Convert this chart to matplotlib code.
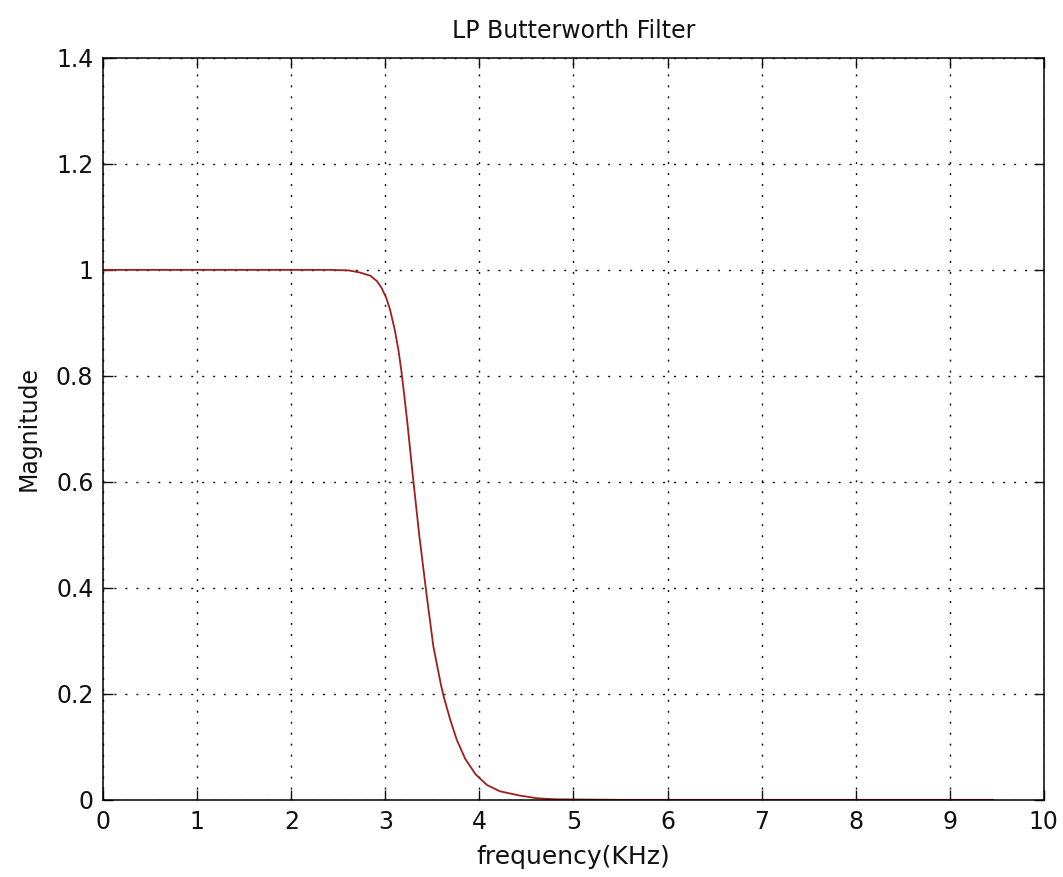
import numpy as np
from matplotlib import pyplot as plt

# valeurs (frequence en KHz, magnitude)
freq = [0, 1, 2, 2.41, 2.61, 2.73, 2.84, 2.91, 2.96, 3.01, 3.05, 3.10, 3.14,
        3.17, 3.20, 3.235, 3.29, 3.36, 3.44, 3.51, 3.59, 3.62, 3.69, 3.76,
        3.85, 3.96, 4.08, 4.22, 4.43, 4.61, 4.8, 5.5, 7, 9.46]
mag = [1, 1, 1, 1, 0.999, 0.995, 0.989, 0.979, 0.966, 0.947, 0.925, 0.887, 0.848,
       0.81, 0.765, 0.71, 0.615, 0.50, 0.385, 0.29, 0.218, 0.195, 0.151, 0.113,
       0.077, 0.048, 0.028, 0.016, 0.008, 0.003, 0.001, 0, 0, 0]

x_ticks = list(range(0, 11))
y_ticks = [0, 0.2, 0.4, 0.6, 0.8, 1, 1.2, 1.4]
y_labels = ["0", "0.2", "0.4", "0.6", "0.8", "1", "1.2", "1.4"]

plt.rcParams['font.family'] = ['DejaVu Sans']

fig = plt.figure(figsize=(10.63, 8.77), dpi=100)
ax = fig.add_axes([0.097, 0.088, 0.885, 0.846])

ax.plot(freq, mag, color='#a01e1e', linewidth=1.3)

ax.set_xlim(0, 10)
ax.set_ylim(0, 1.4)
ax.set_xticks(x_ticks)
ax.set_xticklabels([str(t) for t in x_ticks])
ax.set_yticks(y_ticks)
ax.set_yticklabels(y_labels)

ax.grid(True, color='black', linestyle=(0, (1.4, 6.5)), linewidth=1.0)
ax.tick_params(direction='in', top=True, right=True, length=7, width=1,
               labelsize=17, pad=7, colors='#111111')
for s in ax.spines.values():
    s.set_linewidth(1.1)

ax.set_xlabel("frequency(KHz)", fontsize=18, labelpad=8, color='#111111')
ax.set_ylabel("Magnitude", fontsize=17, labelpad=11, color='#111111')
ax.set_title("LP Butterworth Filter", fontsize=17, pad=14, color='#111111')

fig.savefig("out.png", dpi=100)
